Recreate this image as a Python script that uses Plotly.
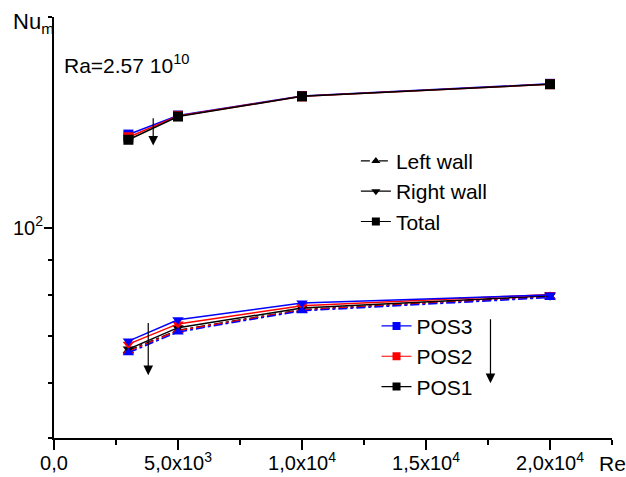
import math
import plotly.graph_objects as go

# ---- data ----
re_vals = [3000, 5000, 10000, 20000]

total_pos3 = [135.8, 144.6, 154.2, 160.5]
total_pos2 = [134.6, 144.4, 154.0, 160.3]
total_pos1 = [133.5, 144.1, 154.0, 160.3]

right_pos3 = [68.8, 73.8, 78.0, 80.1]
right_pos2 = [68.1, 72.8, 77.3, 80.2]
right_pos1 = [67.0, 71.9, 76.7, 79.9]

left_pos3 = [66.2, 70.9, 76.0, 79.4]
left_pos2 = [66.5, 71.2, 76.2, 79.6]
left_pos1 = [66.7, 71.3, 76.3, 79.7]

x_tickvals = [0, 5000, 10000, 15000, 20000]
x_ticktext = ["0,0", "5,0x10<sup>3</sup>", "1,0x10<sup>4</sup>",
              "1,5x10<sup>4</sup>", "2,0x10<sup>4</sup>"]
y_tickvals = [100]
y_ticktext = ["10<sup>2</sup>"]
y_minor_vals = [50, 60, 70, 80, 90, 200]

# arrows: (x, head value, tail value)
arrows = [(4000, 131.0, 144.0), (3800, 61.5, 73.4), (17600, 59.9, 74.3)]

BLUE = "#0000ff"
RED = "#ff0000"
BLACK = "#000000"
FONT = "Liberation Sans, Arial, sans-serif"

fig = go.Figure()

def add(y, color, symbol, dash):
    fig.add_trace(go.Scatter(
        x=re_vals, y=y, mode="lines+markers", showlegend=False,
        line=dict(color=color, width=1.5, dash=dash),
        marker=dict(symbol=symbol, size=10, color=color)))

# lower group: left walls (dash-dot), right walls (solid)
add(left_pos1, BLACK, "triangle-up", "dashdot")
add(left_pos2, RED, "triangle-up", "dashdot")
add(right_pos1, BLACK, "triangle-down", "solid")
add(right_pos2, RED, "triangle-down", "solid")
add(left_pos3, BLUE, "triangle-up", "dashdot")
add(right_pos3, BLUE, "triangle-down", "solid")
# upper group: totals
add(total_pos3, BLUE, "square", "solid")
add(total_pos2, RED, "square", "solid")
add(total_pos1, BLACK, "square", "solid")

# legend 1 (style keys)
for nm, sym, dash in [("Left wall", "triangle-up", "dashdot"),
                      ("Right wall", "triangle-down", "solid"),
                      ("Total", "square", "solid")]:
    fig.add_trace(go.Scatter(x=[None], y=[None], mode="lines+markers", name=nm,
                             line=dict(color=BLACK, width=1.2, dash=dash),
                             marker=dict(symbol=sym, size=8, color=BLACK),
                             legend="legend"))
# legend 2 (position colors)
for nm, col in [("POS3", BLUE), ("POS2", RED), ("POS1", BLACK)]:
    fig.add_trace(go.Scatter(x=[None], y=[None], mode="lines+markers", name=nm,
                             line=dict(color=col, width=1.2),
                             marker=dict(symbol="square", size=8, color=col),
                             legend="legend2"))

annotations = []
for ax_, head, tail in arrows:
    annotations.append(dict(
        x=ax_, y=math.log10(head), ax=ax_, ay=math.log10(tail),
        xref="x", yref="y", axref="x", ayref="y", text="",
        showarrow=True, arrowhead=2, arrowsize=1.6, arrowwidth=1.2,
        arrowcolor=BLACK))

annotations += [
    dict(text="Ra=2.57 10<sup>10</sup>", xref="paper", yref="paper",
         x=0.014, y=0.888, xanchor="left", yanchor="middle", showarrow=False,
         font=dict(size=21, color=BLACK, family=FONT)),
    dict(text="Nu<sub>m</sub>", xref="paper", yref="paper",
         x=-0.077, y=0.985, xanchor="left", yanchor="middle", showarrow=False,
         font=dict(size=22, color=BLACK, family=FONT)),
    dict(text="Re", xref="paper", yref="paper",
         x=1.0, y=-0.06, xanchor="center", yanchor="middle", showarrow=False,
         font=dict(size=21, color=BLACK, family=FONT)),
]

fig.update_layout(
    width=626, height=477,
    margin=dict(l=54, r=14, t=17, b=39, autoexpand=False),
    paper_bgcolor="white", plot_bgcolor="white",
    font=dict(family=FONT, size=20, color=BLACK),
    annotations=annotations,
    legend=dict(x=0.541, y=0.706, xanchor="left", yanchor="top",
                bgcolor="rgba(0,0,0,0)", font=dict(size=21, family=FONT),
                itemwidth=30, tracegroupgap=0),
    legend2=dict(x=0.578, y=0.314, xanchor="left", yanchor="top",
                 bgcolor="rgba(0,0,0,0)", font=dict(size=21, family=FONT),
                 itemwidth=30, tracegroupgap=0),
    xaxis=dict(range=[0, 22500], showgrid=False, zeroline=False, automargin=False,
               showline=True, linecolor=BLACK, linewidth=2,
               ticks="outside", ticklen=10, tickwidth=1.5, tickcolor=BLACK,
               tickmode="array", tickvals=x_tickvals, ticktext=x_ticktext,
               tickfont=dict(size=20, family=FONT), ticklabelstandoff=-4,
               minor=dict(dtick=2500, tick0=0, ticks="outside", ticklen=5,
                          tickwidth=1.5, tickcolor=BLACK, showgrid=False)),
    yaxis=dict(type="log", range=[math.log10(50), math.log10(200)],
               showgrid=False, zeroline=False, automargin=False,
               showline=True, linecolor=BLACK, linewidth=2,
               ticks="outside", ticklen=8, tickwidth=1.5, tickcolor=BLACK,
               tickmode="array", tickvals=y_tickvals, ticktext=y_ticktext,
               tickfont=dict(size=20, family=FONT), ticklabelstandoff=-3,
               minor=dict(tickmode="array", tickvals=y_minor_vals,
                          ticks="outside", ticklen=4, tickwidth=1.5,
                          tickcolor=BLACK, showgrid=False)),
)

fig.write_html("out.html", config={"displayModeBar": False},
               post_script="document.body.style.margin='0';")
